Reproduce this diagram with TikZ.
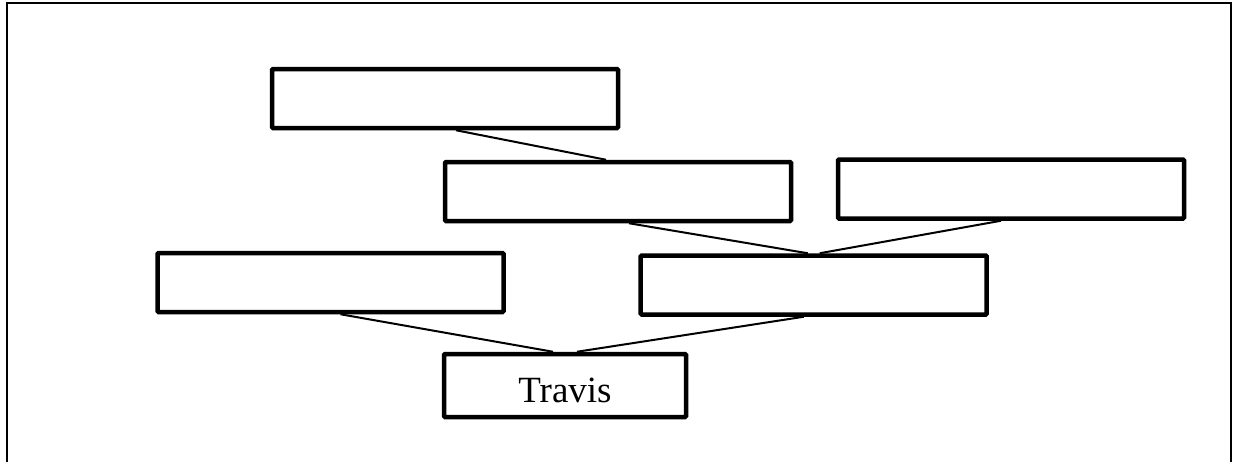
\documentclass[tikz,border=0pt]{standalone}
\usepackage{fontspec}
\setmainfont{Liberation Serif}
\begin{document}
\begin{tikzpicture}[x=1pt,y=-1pt,
  orgbox/.style={draw=black, fill=white, line width=4.5pt, rounded corners=1pt,
    minimum width=346pt, minimum height=59pt, inner sep=0pt,
    font=\fontsize{37}{44}\selectfont},
  conn/.style={draw=black, line width=2pt},
  frame/.style={draw=black, line width=2pt}]
\useasboundingbox (0,0) rectangle (1234,461);
\clip (0,0) rectangle (1234,461);
\draw[frame] (6.5,3) rectangle (1230.5,490);
\node[orgbox] (a) at (445,98.5) {};
\node[orgbox] (b) at (618,191.5) {};
\node[orgbox] (c) at (1011,189) {};
\node[orgbox] (d) at (330.5,282.5) {};
\node[orgbox] (e) at (813.7,285) {};
\node[orgbox, minimum width=242pt, minimum height=63pt] (f) at (565,385.5)
  {\raisebox{-3.5pt}[26pt][0pt]{Travis}};
\draw[conn] ([xshift=11pt]a.south) -- ([xshift=-12pt]b.north);
\draw[conn] ([xshift=11pt]b.south) -- ([xshift=-6pt]e.north);
\draw[conn] ([xshift=-10pt]c.south) -- ([xshift=6pt]e.north);
\draw[conn] ([xshift=10pt]d.south) -- ([xshift=-12pt]f.north);
\draw[conn] ([xshift=-10pt]e.south) -- ([xshift=12pt]f.north);
\end{tikzpicture}
\end{document}
